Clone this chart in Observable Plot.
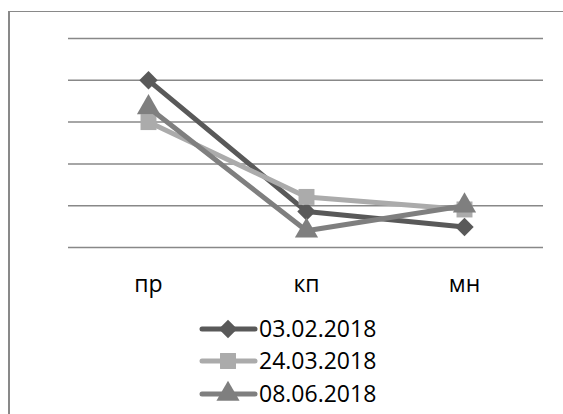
<!DOCTYPE html>
<html>
<head>
<meta charset="utf-8">
<script src="https://cdn.jsdelivr.net/npm/d3@7"></script>
<script src="https://cdn.jsdelivr.net/npm/@observablehq/plot@0.6"></script>
<style>
  html, body { margin: 0; padding: 0; background: #fff; }
  #wrap { position: relative; width: 563px; height: 414px; overflow: hidden; background: #fff; }
  #border { position: absolute; left: 8px; top: 11px; width: 620px; height: 460px;
            border-left: 2px solid #898989; border-top: 1.5px solid #898989; box-sizing: border-box; }
  #chart { position: absolute; left: 0; top: 0; }
  #legend { position: absolute; left: 0; top: 300px; }
</style>
</head>
<body>
<div id="wrap">
  <div id="border"></div>
  <div id="chart"></div>
  <div id="legend"></div>
</div>
<script>
const categories = ["пр", "кп", "мн"];
const seriesNames = ["03.02.2018", "24.03.2018", "08.06.2018"];
const series1 = [4.0, 0.86, 0.49];
const series2 = [3.0, 1.21, 0.91];
const series3 = [3.35, 0.4, 1.0];
const gridValues = [0, 1, 2, 3, 4, 5];
const colors = ["#595959", "#ababab", "#7f7f7f"];
const symbolNames = ["diamond2", "square", "triangle"];
const symbolRadius = [8.3, 9, 8.6];

const allSeries = [series1, series2, series3];
const rows = [];
allSeries.forEach((vals, i) => {
  vals.forEach((v, j) => rows.push({series: seriesNames[i], cat: categories[j], value: v}));
});

const marks = [Plot.ruleY(gridValues, {stroke: "#888888", strokeWidth: 1.5})];
seriesNames.forEach((name, i) => {
  const d = rows.filter(r => r.series === name);
  marks.push(Plot.line(d, {x: "cat", y: "value", stroke: "series", strokeWidth: 5,
    strokeLinejoin: "round", strokeLinecap: "round"}));
  marks.push(Plot.dot(d, {x: "cat", y: "value", symbol: "series", fill: "series",
    stroke: "none", r: symbolRadius[i]}));
});

const chart = Plot.plot({
  width: 563,
  height: 300,
  marginLeft: 68,
  marginRight: 20,
  marginTop: 38,
  marginBottom: 53,
  style: {fontFamily: "'Open Sans', sans-serif", fontSize: "23px", color: "#000", background: "transparent", overflow: "visible"},
  x: {type: "point", domain: categories, padding: 0.5, tickSize: 0, tickPadding: 28, label: null},
  y: {domain: [0, 5], axis: null},
  color: {domain: seriesNames, range: colors},
  symbol: {domain: seriesNames, range: symbolNames},
  marks
});
document.getElementById("chart").appendChild(chart);

// Legend
const symMap = {diamond2: d3.symbolDiamond2, square: d3.symbolSquare, triangle: d3.symbolTriangle};
const rowY = [29, 61, 94];
const lg = d3.create("svg").attr("width", 563).attr("height", 114)
  .style("font-family", "'Open Sans', sans-serif").style("font-size", "23px");
seriesNames.forEach((name, i) => {
  const g = lg.append("g").attr("transform", `translate(0,${rowY[i]})`);
  g.append("line").attr("x1", 202).attr("x2", 255).attr("y1", 0).attr("y2", 0)
    .attr("stroke", colors[i]).attr("stroke-width", 5).attr("stroke-linecap", "round");
  g.append("path").attr("transform", "translate(228,0)")
    .attr("d", d3.symbol(symMap[symbolNames[i]], symbolRadius[i] * symbolRadius[i] * Math.PI)())
    .attr("fill", colors[i]);
  g.append("text").attr("x", 259).attr("y", 8).attr("fill", "#000").text(name);
});
document.getElementById("legend").appendChild(lg.node());
</script>
</body>
</html>
